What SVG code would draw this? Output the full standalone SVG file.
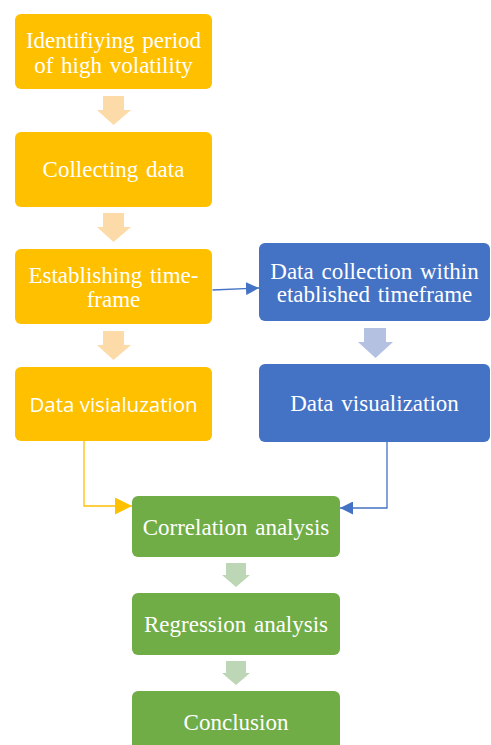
<svg xmlns="http://www.w3.org/2000/svg" width="491" height="745" viewBox="0 0 491 745">
<defs>
<style>
.o{fill:#FFC000}
.b{fill:#4472C4}
.g{fill:#70AD47}
.t{fill:#fff;font-family:"Liberation Serif","Times New Roman",serif;font-size:23px;word-spacing:2px;text-anchor:middle}
.s{fill:#fff;font-family:"Open Sans","Liberation Sans",sans-serif;font-size:20.5px;text-anchor:middle}
.ao{fill:#FDDBA8}
.ab{fill:#B4C1E1}
.ag{fill:#BDD6B6}
</style>
<marker id="mo" viewBox="0 0 10 10" refX="10" refY="5" markerWidth="17" markerHeight="17" markerUnits="userSpaceOnUse" orient="auto"><path d="M0,0L10,5L0,10z" fill="#FFC000"/></marker>
<marker id="mb" viewBox="0 0 10 10" refX="10" refY="5" markerWidth="13" markerHeight="13" markerUnits="userSpaceOnUse" orient="auto"><path d="M0,0L10,5L0,10z" fill="#4472C4"/></marker>
</defs>
<g id="connectors">
<path class="ao" d="M103,96H124V110H131L113.5,125L97,110H103Z"/>
<path class="ao" d="M103,213H124V227H131L113.5,242L97,227H103Z"/>
<path class="ao" d="M103,331H124V345H131L113.5,360L97,345H103Z"/>
<path class="ab" d="M364,328H386V342H393L375.5,358L358,342H364Z"/>
<path class="ag" d="M226,563H246V575H250L236,587L222,575H226Z"/>
<path class="ag" d="M226,661H246V673H250L236,685L222,673H226Z"/>
<path d="M212.5,290L259,288" stroke="#4472C4" stroke-width="1.3" fill="none" marker-end="url(#mb)"/>
<path d="M84,441V506H132" stroke="#FFC000" stroke-width="1.3" fill="none" marker-end="url(#mo)"/>
<path d="M387,442V508H340" stroke="#4472C4" stroke-width="1.3" fill="none" marker-end="url(#mb)"/>
</g>
<g id="n1"><rect class="o" x="15" y="14" width="197" height="75" rx="6"/><text class="t" x="113.5" y="48">Identifiying period</text><text class="t" x="113.5" y="73">of high volatility</text></g>
<g id="n2"><rect class="o" x="15" y="132" width="197" height="75" rx="6"/><text class="t" x="113.5" y="177">Collecting data</text></g>
<g id="n3"><rect class="o" x="15" y="249" width="197" height="75" rx="6"/><text class="t" x="113.5" y="283">Establishing time-</text><text class="t" x="113.5" y="307">frame</text></g>
<g id="n4"><rect class="o" x="15" y="367" width="197" height="74" rx="6"/><text class="s" x="113.5" y="412">Data visialuzation</text></g>
<g id="n5"><rect class="b" x="259" y="243" width="231" height="78" rx="6"/><text class="t" x="374.5" y="279">Data collection within</text><text class="t" x="374.5" y="302">etablished timeframe</text></g>
<g id="n6"><rect class="b" x="259" y="364" width="231" height="78" rx="6"/><text class="t" x="374.5" y="411">Data visualization</text></g>
<g id="n7"><rect class="g" x="132" y="496" width="208" height="61" rx="6"/><text class="t" x="236" y="535">Correlation analysis</text></g>
<g id="n8"><rect class="g" x="132" y="593" width="208" height="62" rx="6"/><text class="t" x="236" y="632">Regression analysis</text></g>
<g id="n9"><rect class="g" x="132" y="691" width="208" height="62" rx="6"/><text class="t" x="236" y="730">Conclusion</text></g>
</svg>
